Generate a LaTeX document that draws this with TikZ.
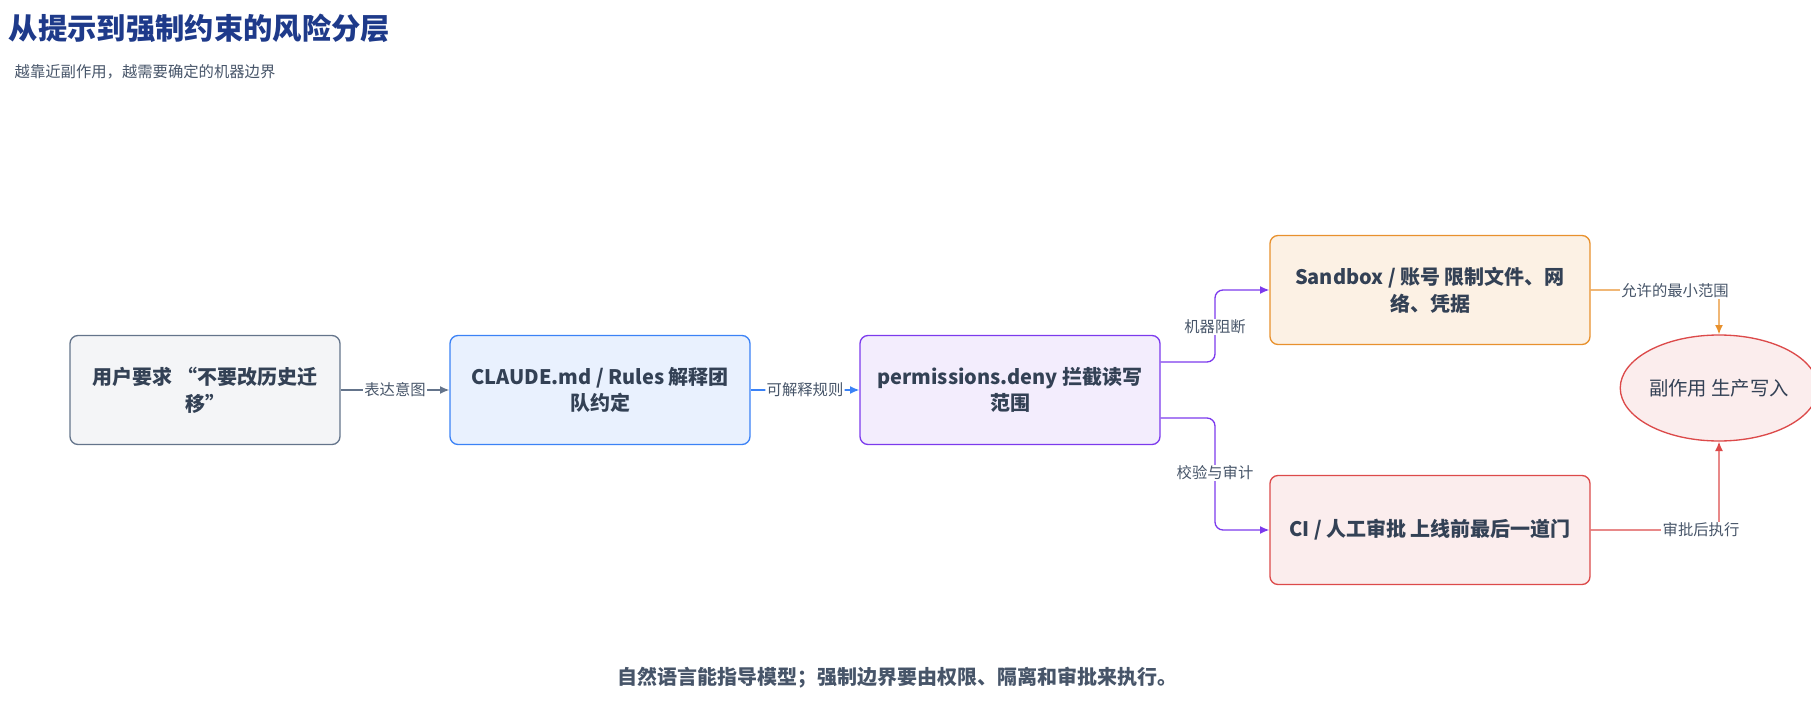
\documentclass[tikz,border=0pt]{standalone}
\usepackage{fontspec}
\setmainfont{Noto Sans CJK SC}
\usetikzlibrary{positioning,shapes.geometric,arrows.meta}
\definecolor{ink}{HTML}{334155}
\definecolor{muted}{HTML}{475569}
\definecolor{titleblue}{HTML}{1E3A8A}
\definecolor{slateline}{HTML}{64748B}
\definecolor{blueline}{HTML}{3B82F6}
\definecolor{purpleline}{HTML}{7C3AED}
\definecolor{orangeline}{HTML}{E8912D}
\definecolor{redline}{HTML}{DC4A4A}
\tikzset{
  box/.style = {draw, rounded corners=6pt, line width=1pt, minimum width=300*0.75pt,
                minimum height=109*0.75pt, align=center,
                font=\bfseries\fontsize{15}{20}\selectfont, text=ink},
  link/.style = {line width=1pt, rounded corners=6pt, -{Latex[length=7pt,width=6pt]}},
  tag/.style = {fill=white, inner sep=1pt, text=muted, font=\fontsize{11.5}{13}\selectfont}
}
\begin{document}
\begin{tikzpicture}[x=0.75pt, y=-0.75pt]
            \useasboundingbox (0,0) rectangle (1811,706);
            % title
            \node[anchor=west, text=titleblue, font=\bfseries\fontsize{22}{26}\selectfont] (title) at (4,28) {从提示到强制约束的风险分层};
            \node[anchor=west, text=muted, font=\fontsize{11.5}{13}\selectfont] (sub) at (10,72) {越靠近副作用，越需要确定的机器边界};
            % boxes
            \node[box, minimum width=270*0.75pt, fill=slateline!7, draw=slateline] (user) at (205,390) {用户要求 “不要改历史迁\\移”};
            \node[box, fill=blueline!11, draw=blueline] (rules) at (600,390) {CLAUDE.md / Rules 解释团\\队约定};
            \node[box, fill=purpleline!9, draw=purpleline] (deny) at (1010,390) {permissions.deny 拦截读写\\范围};
            \node[box, minimum width=320*0.75pt, fill=orangeline!13, draw=orangeline] (sandbox) at (1430,290) {Sandbox / 账号 限制文件、网\\络、凭据};
            \node[box, minimum width=320*0.75pt, fill=redline!10, draw=redline] (ci) at (1430,530) {CI / 人工审批 上线前最后一道门};
            \node[ellipse, draw=redline, fill=redline!10, line width=1pt, inner sep=0pt, minimum width=178*0.75pt, minimum height=106*0.75pt,
                  text=ink, font=\fontsize{14.5}{17}\selectfont] (prod) at (1719,388) {副作用 生产写入};
            % connectors
            \coordinate (up) at (1215,290);
            \coordinate (down) at (1215,530);
            \coordinate (corner1) at (1719,290);
            \coordinate (corner2) at (1719,530);
            \draw[link, slateline] (user) -- node[tag] {表达意图} (rules);
            \draw[link, blueline] (rules) -- node[tag] {可解释规则} (deny);
            \draw[link, purpleline] (deny.east |- 0,362) -| (up) -- (sandbox.west);
            \node[tag] (lblock) at (1215,327) {机器阻断};
            \draw[link, purpleline] (deny.east |- 0,418) -| (down) -- (ci.west);
            \node[tag] (lcheck) at (1215,473) {校验与审计};
            \draw[link, orangeline] (sandbox.east |- up) -- (corner1) -- (prod.north);
            \node[tag] (lmin) at (1675,291) {允许的最小范围};
            \draw[link, redline] (ci.east) -- (corner2) -- (prod.south);
            \node[tag] (lok) at (1701,530) {审批后执行};
            % footer
            \node[text=muted, font=\bfseries\fontsize{15}{17}\selectfont] (foot) at (897,678) {自然语言能指导模型；强制边界要由权限、隔离和审批来执行。};
\end{tikzpicture}
\end{document}
